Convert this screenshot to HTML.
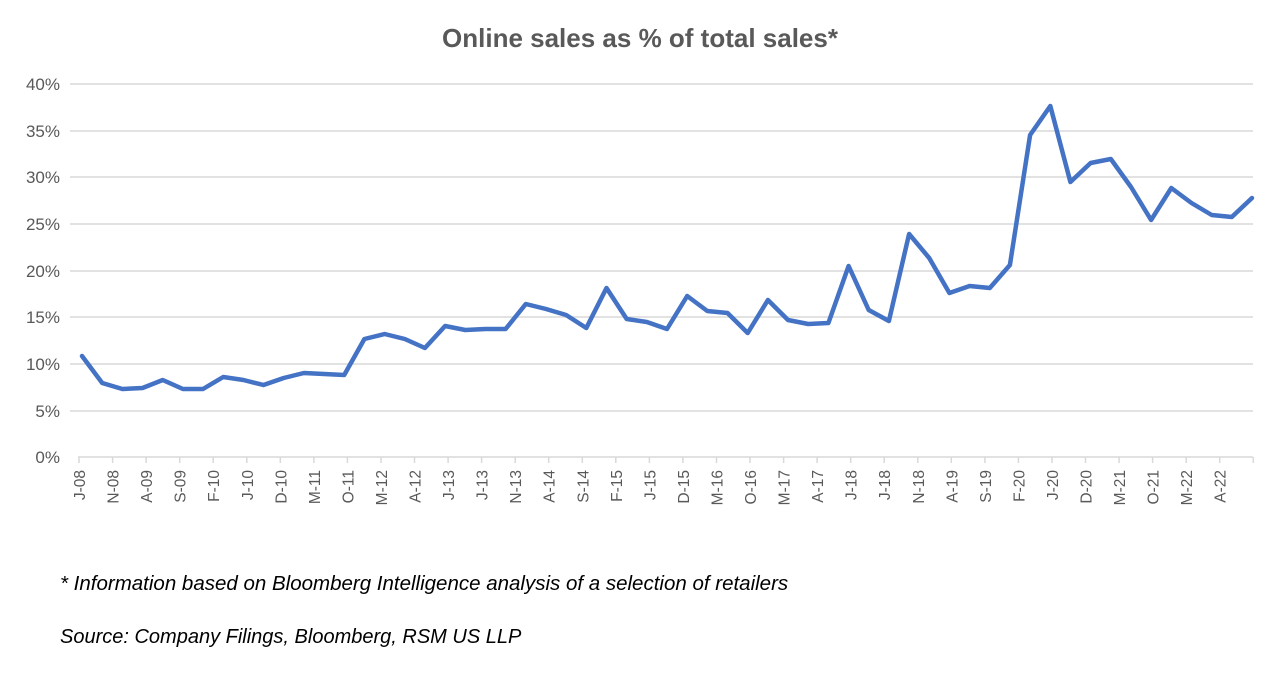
<!DOCTYPE html>
<html><head><meta charset="utf-8"><style>
html,body{margin:0;padding:0;background:#fff;}
svg{display:block;}
text{font-family:"Liberation Sans",sans-serif;fill:#595959;}
</style></head><body>
<svg width="1280" height="675" xmlns="http://www.w3.org/2000/svg">
<text x="640" y="47" text-anchor="middle" font-size="26" font-weight="bold">Online sales as % of total sales*</text>
<g stroke="#d9d9d9" stroke-width="1.5">
<line x1="70" x2="1253" y1="84" y2="84"/>
<line x1="70" x2="1253" y1="131" y2="131"/>
<line x1="70" x2="1253" y1="177" y2="177"/>
<line x1="70" x2="1253" y1="224" y2="224"/>
<line x1="70" x2="1253" y1="271" y2="271"/>
<line x1="70" x2="1253" y1="317" y2="317"/>
<line x1="70" x2="1253" y1="364" y2="364"/>
<line x1="70" x2="1253" y1="411" y2="411"/>
<line x1="78" x2="1253" y1="457" y2="457"/>
</g>
<g font-size="17" text-anchor="end">
<text x="60" y="90">40%</text><text x="60" y="137">35%</text><text x="60" y="183">30%</text>
<text x="60" y="230">25%</text><text x="60" y="277">20%</text><text x="60" y="323">15%</text>
<text x="60" y="370">10%</text><text x="60" y="417">5%</text><text x="60" y="463">0%</text>
</g>
<path stroke="#d9d9d9" stroke-width="1.5" d="M79 457v6M112.6 457v6M146.1 457v6M179.7 457v6M213.2 457v6M246.8 457v6M280.3 457v6M313.9 457v6M347.4 457v6M381 457v6M414.5 457v6M448.1 457v6M481.6 457v6M515.2 457v6M548.7 457v6M582.3 457v6M615.8 457v6M649.4 457v6M682.9 457v6M716.5 457v6M750 457v6M783.6 457v6M817.1 457v6M850.7 457v6M884.2 457v6M917.8 457v6M951.3 457v6M984.9 457v6M1018.4 457v6M1052 457v6M1085.5 457v6M1119.1 457v6M1152.6 457v6M1186.2 457v6M1219.7 457v6M1253.3 457v6"/>
<g font-size="15.5" text-anchor="end">
<text transform="translate(85,470) rotate(-90)">J-08</text>
<text transform="translate(118.6,470) rotate(-90)">N-08</text>
<text transform="translate(152.1,470) rotate(-90)">A-09</text>
<text transform="translate(185.7,470) rotate(-90)">S-09</text>
<text transform="translate(219.2,470) rotate(-90)">F-10</text>
<text transform="translate(252.8,470) rotate(-90)">J-10</text>
<text transform="translate(286.3,470) rotate(-90)">D-10</text>
<text transform="translate(319.9,470) rotate(-90)">M-11</text>
<text transform="translate(353.4,470) rotate(-90)">O-11</text>
<text transform="translate(387,470) rotate(-90)">M-12</text>
<text transform="translate(420.5,470) rotate(-90)">A-12</text>
<text transform="translate(454.1,470) rotate(-90)">J-13</text>
<text transform="translate(487.6,470) rotate(-90)">J-13</text>
<text transform="translate(521.2,470) rotate(-90)">N-13</text>
<text transform="translate(554.7,470) rotate(-90)">A-14</text>
<text transform="translate(588.3,470) rotate(-90)">S-14</text>
<text transform="translate(621.8,470) rotate(-90)">F-15</text>
<text transform="translate(655.4,470) rotate(-90)">J-15</text>
<text transform="translate(688.9,470) rotate(-90)">D-15</text>
<text transform="translate(722.5,470) rotate(-90)">M-16</text>
<text transform="translate(756,470) rotate(-90)">O-16</text>
<text transform="translate(789.6,470) rotate(-90)">M-17</text>
<text transform="translate(823.1,470) rotate(-90)">A-17</text>
<text transform="translate(856.7,470) rotate(-90)">J-18</text>
<text transform="translate(890.2,470) rotate(-90)">J-18</text>
<text transform="translate(923.8,470) rotate(-90)">N-18</text>
<text transform="translate(957.3,470) rotate(-90)">A-19</text>
<text transform="translate(990.9,470) rotate(-90)">S-19</text>
<text transform="translate(1024.4,470) rotate(-90)">F-20</text>
<text transform="translate(1058,470) rotate(-90)">J-20</text>
<text transform="translate(1091.5,470) rotate(-90)">D-20</text>
<text transform="translate(1125.1,470) rotate(-90)">M-21</text>
<text transform="translate(1158.6,470) rotate(-90)">O-21</text>
<text transform="translate(1192.2,470) rotate(-90)">M-22</text>
<text transform="translate(1225.7,470) rotate(-90)">A-22</text>
</g>
<polyline fill="none" stroke="#4472c4" stroke-width="4.5" stroke-linejoin="round" stroke-linecap="round" points="82,356 102.2,383 122.3,389 142.5,388 162.7,380 182.9,389 203,389 223.2,377 243.4,380 263.5,385 283.7,378 303.9,373 324.1,374 344.2,375 364.4,339 384.6,334 404.8,339 424.9,348 445.1,326 465.3,330 485.4,329 505.6,329 525.8,304 546,309 566.1,315 586.3,328 606.5,288 626.7,319 646.8,322 667,329 687.2,296 707.3,311 727.5,313 747.7,333 767.9,300 788,320 808.2,324 828.4,323 848.6,266 868.7,310 888.9,321 909.1,234 929.2,258 949.4,293 969.6,286 989.8,288 1009.9,265 1030.1,135 1050.3,106 1070.4,182 1090.6,163 1110.8,159 1131,187 1151.1,220 1171.3,188 1191.5,203 1211.7,215 1231.8,217 1252,198"/>
<text x="60" y="590" font-size="20.5" font-style="italic" style="fill:#000">* Information based on Bloomberg Intelligence analysis of a selection of retailers</text>
<text x="60" y="643" font-size="20" font-style="italic" style="fill:#000">Source: Company Filings, Bloomberg, RSM US LLP</text>
</svg>
</body></html>
